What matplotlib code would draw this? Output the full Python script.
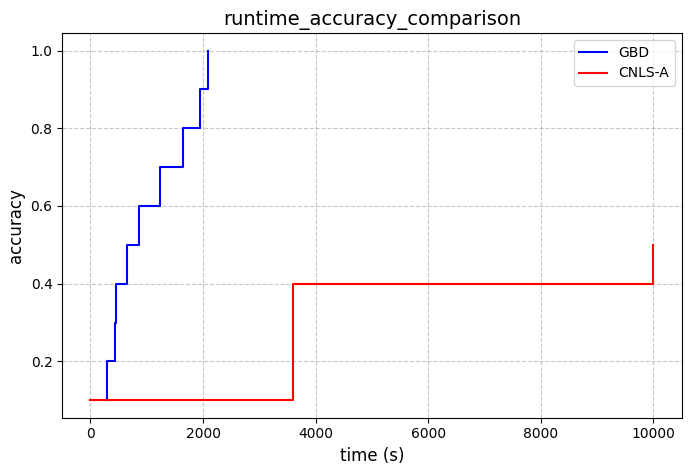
import matplotlib
matplotlib.use("Agg")
import matplotlib.pyplot as plt

gbd_time = [290, 290, 430, 460, 650, 860, 1230, 1650, 1950, 2080]
gbd_acc = [0.1, 0.2, 0.3, 0.4, 0.5, 0.6, 0.7, 0.8, 0.9, 1.0]
cnls_time = [0, 3600, 10000]
cnls_acc = [0.1, 0.4, 0.5]

fig, ax = plt.subplots(figsize=(6.92, 4.72), dpi=100)
fig.subplots_adjust(left=0.09, right=0.985, top=0.93, bottom=0.115)
ax.plot(gbd_time, gbd_acc, drawstyle="steps-post", color="blue", label="GBD")
ax.plot(cnls_time, cnls_acc, drawstyle="steps-post", color="red", label="CNLS-A")
ax.set_title("runtime_accuracy_comparison", fontsize=14)
ax.set_xlabel("time (s)", fontsize=12)
ax.set_ylabel("accuracy", fontsize=12)
ax.grid(True, linestyle="--", alpha=0.7)
ax.legend(loc="upper right")
fig.savefig("out.png", dpi=100)
